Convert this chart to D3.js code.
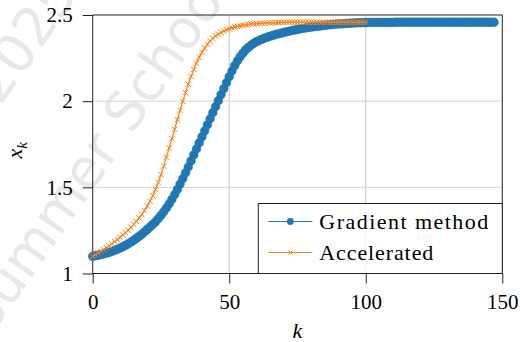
<!DOCTYPE html>
<html>
<head>
<meta charset="utf-8">
<script src="https://cdn.jsdelivr.net/npm/d3@7"></script>
<style>
  body { margin: 0; background: #fff; }
  svg { display: block; }
</style>
</head>
<body>
<div id="chart"></div>
<script>
// Data
const gradientValues = [
  1.100, 1.103, 1.106, 1.110, 1.114, 1.118, 1.123, 1.128, 1.134, 1.140,
  1.147, 1.155, 1.163, 1.172, 1.182, 1.193, 1.204, 1.216, 1.229, 1.242,
  1.256, 1.270, 1.285, 1.300, 1.318, 1.337, 1.358, 1.380, 1.404, 1.430,
  1.458, 1.488, 1.519, 1.551, 1.584, 1.618, 1.653, 1.688, 1.723, 1.758,
  1.793, 1.828, 1.863, 1.898, 1.933, 1.968, 2.003, 2.038, 2.073, 2.108,
  2.142, 2.175, 2.206, 2.234, 2.258, 2.279, 2.297, 2.312, 2.325, 2.336,
  2.345, 2.353, 2.360, 2.366, 2.372, 2.377, 2.382, 2.387, 2.391, 2.395,
  2.399, 2.403, 2.406, 2.410, 2.413, 2.416, 2.419, 2.422, 2.425, 2.427,
  2.430, 2.432, 2.434, 2.436, 2.438, 2.440, 2.442, 2.444, 2.445, 2.447,
  2.448, 2.449, 2.450, 2.451, 2.452, 2.453, 2.454, 2.455, 2.455, 2.456,
  2.456, 2.457, 2.457, 2.457, 2.457, 2.457, 2.457, 2.457, 2.457, 2.457,
  2.457, 2.458, 2.458, 2.458, 2.458, 2.458, 2.458, 2.458, 2.458, 2.458,
  2.458, 2.458, 2.458, 2.458, 2.458, 2.458, 2.458, 2.458, 2.458, 2.458,
  2.458, 2.458, 2.458, 2.458, 2.458, 2.458, 2.458, 2.458, 2.458, 2.458,
  2.458, 2.458, 2.458, 2.458, 2.458, 2.458, 2.458, 2.458
];
const acceleratedValues = [
  1.100, 1.109, 1.119, 1.129, 1.139, 1.150, 1.161, 1.173, 1.185, 1.197,
  1.210, 1.223, 1.237, 1.252, 1.268, 1.285, 1.303, 1.322, 1.343, 1.366,
  1.391, 1.419, 1.451, 1.487, 1.528, 1.574, 1.623, 1.675, 1.728, 1.782,
  1.837, 1.892, 1.946, 1.999, 2.050, 2.098, 2.143, 2.184, 2.221, 2.254,
  2.283, 2.308, 2.330, 2.349, 2.365, 2.378, 2.389, 2.399, 2.407, 2.414,
  2.420, 2.425, 2.430, 2.434, 2.437, 2.440, 2.443, 2.445, 2.447, 2.449,
  2.450, 2.451, 2.452, 2.453, 2.454, 2.455, 2.455, 2.456, 2.456, 2.457,
  2.457, 2.458, 2.458, 2.458, 2.458, 2.458, 2.458, 2.458, 2.458, 2.458,
  2.458, 2.458, 2.458, 2.458, 2.458, 2.458, 2.458, 2.458, 2.458, 2.458,
  2.458, 2.458, 2.458, 2.458, 2.458, 2.458, 2.458, 2.458, 2.458, 2.458,
  2.458
];
const xTicks = [0, 50, 100, 150];
const yTicks = [1, 1.5, 2, 2.5];
const seriesNames = ["Gradient method", "Accelerated"];
const colors = ["#1f77b4", "#ff7f0e"];

const W = 520, H = 342;
const margin = {top: 15, right: 17.7, bottom: 68.5, left: 92.7};
const width = W - margin.left - margin.right,
      height = H - margin.top - margin.bottom;
const serif = "\"Liberation Serif\"";

const root = d3.select("#chart").append("svg")
  .attr("width", W)
  .attr("height", H);

// faint watermark behind the plot
const wm = root.append("g");
[["Summer School", 112, 163], ["2025", 40, 50]].forEach(([t, tx, ty]) => {
  wm.append("text")
    .attr("transform", `translate(${tx},${ty}) rotate(-55)`)
    .attr("text-anchor", "middle")
    .style("fill", "#e8e8e8")
    .style("font-family", "\"DejaVu Sans\"")
    .style("font-size", "54px")
    .text(t);
});

const svg = root.append("g")
  .attr("transform", `translate(${margin.left},${margin.top})`);

const x = d3.scaleLinear().domain([0, 150]).range([0, width]);
const y = d3.scaleLinear().domain([1, 2.5]).range([height, 0]);

// grid
svg.append("g")
  .selectAll("line")
  .data(xTicks.slice(1, -1))
  .join("line")
    .attr("x1", d => x(d)).attr("x2", d => x(d))
    .attr("y1", 0).attr("y2", height)
    .attr("stroke", "#c8c8c8");
svg.append("g")
  .selectAll("line")
  .data(yTicks.slice(1, -1))
  .join("line")
    .attr("x1", 0).attr("x2", width)
    .attr("y1", d => y(d)).attr("y2", d => y(d))
    .attr("stroke", "#d6d6d6");

// axes
const xAxis = svg.append("g")
  .attr("transform", `translate(0,${height})`)
  .call(d3.axisBottom(x).tickValues(xTicks).tickSize(10).tickSizeOuter(0).tickPadding(11));
const yAxis = svg.append("g")
  .call(d3.axisLeft(y).tickValues(yTicks).tickFormat(d3.format("")).tickSize(10).tickSizeOuter(0).tickPadding(10));
[xAxis, yAxis].forEach(a => {
  a.attr("font-family", null).attr("font-size", null);
  a.select(".domain").remove();
  a.selectAll("line").attr("stroke", "#222");
  a.selectAll("text")
    .style("font-family", serif)
    .style("font-size", "21px")
    .attr("fill", "#000");
});

// frame
svg.append("rect")
  .attr("width", width).attr("height", height)
  .attr("fill", "none").attr("stroke", "#222").attr("stroke-width", 1);

// gradient method: thin line + filled circles
const gradData = gradientValues.map((v, i) => [i, v]);
const accData = acceleratedValues.map((v, i) => [i, v]);
const line = d3.line().x(d => x(d[0])).y(d => y(d[1]));

svg.append("path")
  .datum(gradData)
  .attr("fill", "none")
  .attr("stroke", colors[0])
  .attr("stroke-width", 1)
  .attr("d", line);
svg.append("g")
  .selectAll("circle")
  .data(gradData)
  .join("circle")
    .attr("cx", d => x(d[0]))
    .attr("cy", d => y(d[1]))
    .attr("r", 4.4)
    .attr("fill", colors[0])
    .attr("stroke", colors[0])
    .attr("stroke-width", 0.4);

// accelerated: line + x marks
svg.append("path")
  .datum(accData)
  .attr("fill", "none")
  .attr("stroke", colors[1])
  .attr("stroke-width", 1.2)
  .attr("d", line);
const s = 2.7;
svg.append("g")
  .selectAll("path")
  .data(accData)
  .join("path")
    .attr("d", d => {
      const cx = x(d[0]), cy = y(d[1]);
      return `M${cx - s},${cy - s}L${cx + s},${cy + s}M${cx - s},${cy + s}L${cx + s},${cy - s}`;
    })
    .attr("stroke", colors[1])
    .attr("stroke-width", 1);

// legend
const legX = x(150) - 244, legY = height - 70;
const leg = svg.append("g").attr("transform", `translate(${legX},${legY})`);
leg.append("rect")
  .attr("width", 244).attr("height", 70)
  .attr("fill", "#fff").attr("fill-opacity", 0.85)
  .attr("stroke", "#222");
const rows = [18, 49];
seriesNames.forEach((name, i) => {
  const g = leg.append("g").attr("transform", `translate(0,${rows[i]})`);
  g.append("line").attr("x1", 10).attr("x2", 54)
    .attr("stroke", colors[i]).attr("stroke-width", 1.2);
  if (i === 0) {
    g.append("circle").attr("cx", 32).attr("r", 3.4).attr("fill", colors[0]);
  } else {
    g.append("path").attr("d", "M29.8,-2.2L34.2,2.2M29.8,2.2L34.2,-2.2")
      .attr("stroke", colors[1]).attr("stroke-width", 1);
  }
  g.append("text")
    .attr("x", 61).attr("y", 7)
    .style("font-family", serif)
    .style("font-size", "22px")
    .attr("textLength", i === 0 ? 169 : 114)
    .attr("lengthAdjust", "spacing")
    .text(name);
});

// axis labels
svg.append("text")
  .attr("x", width / 2).attr("y", height + 64)
  .attr("text-anchor", "middle")
  .style("font-family", serif)
  .style("font-size", "22px").style("font-style", "italic")
  .text("k");
const yl = svg.append("text")
  .attr("transform", `translate(${-71},${height / 2 + 6}) rotate(-90)`)
  .attr("text-anchor", "middle")
  .style("font-family", serif)
  .style("font-size", "22px").style("font-style", "italic");
yl.append("tspan").text("x");
yl.append("tspan").attr("dy", 5).style("font-size", "15px").text("k");
</script>
</body>
</html>
